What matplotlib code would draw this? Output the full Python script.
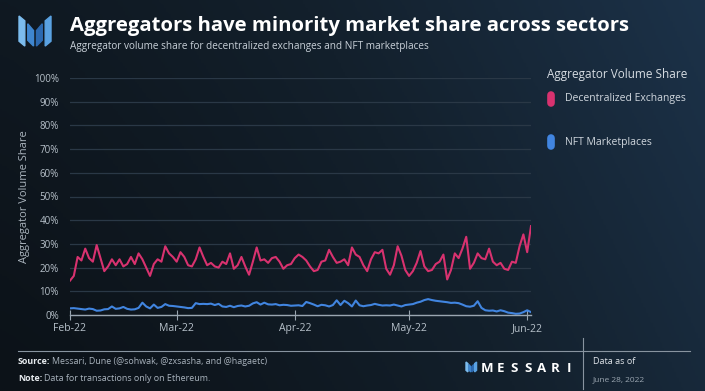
import numpy as np
import pandas as pd
import matplotlib
matplotlib.use("Agg")
from matplotlib import pyplot as plt, rcParams
from matplotlib.colors import LinearSegmentedColormap
from matplotlib.patches import Polygon
import matplotlib.dates as mdates

rcParams["font.family"] = ["Open Sans", "DejaVu Sans"]

# daily aggregator share (%), 1 Feb 2022 to 2 Jun 2022
dex_share = [
    14.5, 16.5, 24.5, 23, 28, 24, 22.5, 29.5, 24, 18.5,
    20.5, 23.5, 21, 23.5, 20.5, 21.5, 24.5, 21.5, 26, 23.5,
    20, 16.5, 21.5, 23.5, 22.5, 29, 26, 24.5, 22.5, 26.5,
    24.5, 21, 20.5, 23.5, 28.5, 24.5, 21, 22, 20.5, 20,
    22.5, 21.5, 26, 19.5, 21, 24.5, 20.5, 17, 22.5, 28.5,
    23, 23.5, 22, 24, 24.5, 22.5, 19.5, 21, 21.5, 24,
    25.5, 24.5, 23, 20.5, 18.5, 19, 22.5, 23, 27.5, 24.5,
    22, 22.5, 23.5, 21, 28.5, 25.5, 24.5, 21, 18.5, 23.5,
    26.5, 26, 27.5, 19.5, 17, 21, 29, 25, 19, 16.5,
    18.5, 22, 27, 20.5, 18.5, 19, 21.5, 22.5, 25.5, 15,
    19, 26, 24, 28, 33, 19.5, 22, 26, 24, 23.5,
    28, 22.5, 21, 22, 19.5, 19, 22.5, 22, 29, 34,
    26.5, 37.5,
]
nft_share = [
    2.8, 2.9, 2.7, 2.5, 2.3, 2.7, 2.5, 1.8, 1.9, 2.4,
    2.5, 3.6, 2.6, 2.8, 3.4, 2.6, 2.3, 2.4, 3.0, 5.2,
    3.6, 2.8, 4.4, 3.0, 3.4, 4.6, 3.9, 3.8, 3.6, 3.4,
    3.2, 2.9, 3.0, 5.0, 4.6, 4.7, 4.6, 4.8, 4.2, 4.7,
    3.6, 3.4, 3.9, 3.3, 3.8, 4.0, 3.6, 3.9, 4.9, 5.4,
    4.4, 5.2, 4.5, 4.4, 4.6, 4.1, 4.3, 4.2, 3.9, 4.0,
    4.1, 3.8, 5.5, 5.0, 4.4, 3.7, 4.3, 4.1, 3.6, 4.2,
    6.2, 4.2, 6.0, 5.0, 3.6, 6.1, 4.1, 3.7, 4.0, 4.2,
    4.7, 4.3, 4.0, 4.1, 4.0, 4.4, 4.0, 3.6, 4.2, 4.4,
    4.6, 5.2, 5.6, 6.3, 6.7, 6.3, 6.0, 5.8, 5.6, 5.4,
    5.1, 5.2, 5.0, 4.4, 3.7, 3.5, 3.9, 5.8, 3.0, 2.0,
    1.8, 1.9, 1.5, 2.0, 1.6, 1.0, 0.8, 0.5, 0.6, 1.2,
    2.0, 1.2,
]
dates = pd.date_range("2022-02-01", periods=len(dex_share), freq="D")
y_ticks = list(range(0, 101, 10))

PINK = "#d8326f"
BLUE = "#4185e0"
LIGHT = "#b7c1ca"

W, H = 705, 391
fig = plt.figure(figsize=(W / 100, H / 100), dpi=100)


def fx(x):
    return x / W


def fy(y):
    return 1 - y / H


# background gradient
bg = fig.add_axes([0, 0, 1, 1])
bg.axis("off")
gx = np.linspace(0, 1, 300)
gy = np.linspace(0, 1, 200)
grad = 0.75 * gx[None, :] ** 1.3 + 0.25 * (1 - gy[:, None])
cmap = LinearSegmentedColormap.from_list("bg", ["#0c1218", "#13202c", "#1c3249"])
bg.imshow(grad, cmap=cmap, aspect="auto", extent=[0, 1, 0, 1], origin="upper")
bg.set_xlim(0, 1)
bg.set_ylim(0, 1)

# main chart
ax = fig.add_axes([fx(70), fy(315), fx(531 - 70), (315 - 78) / H])
ax.set_facecolor("none")
ax.plot(dates, dex_share, color=PINK, lw=1.5, solid_joinstyle="round")
ax.plot(dates, nft_share, color=BLUE, lw=1.5, solid_joinstyle="round")
ax.set_xlim(dates[0], dates[-1])
ax.set_ylim(0, 100)
ax.set_yticks(y_ticks)
ax.set_yticklabels([f"{v}%" for v in y_ticks])
ax.grid(axis="y", color="#2a3846", lw=0.9)
ax.set_axisbelow(True)
ax.xaxis.set_major_locator(mdates.MonthLocator())
ax.xaxis.set_major_formatter(mdates.DateFormatter("%b-%y"))
for s in ["top", "right", "left"]:
    ax.spines[s].set_visible(False)
ax.spines["bottom"].set_color("#9aa6b1")
ax.spines["bottom"].set_linewidth(1.0)
ax.tick_params(axis="y", length=0, pad=8, labelsize=7, labelcolor=LIGHT)
ax.tick_params(axis="x", direction="inout", length=7, color="#9aa6b1",
               labelsize=7.5, labelcolor=LIGHT, pad=2)
ax.set_ylabel("Aggregator Volume Share", color="#aab4bd", fontsize=8)
ax.yaxis.set_label_coords(-0.087, 0.5)


def logo(x0, y0, s, zorder=5):
    # four slanted bars, coordinates in px relative to top-left
    shapes = [
        ([(0, 0), (6, 5), (6, 31), (0, 26)], "#7cbcee"),
        ([(9, 8), (15, 15), (15, 31), (9, 25)], "#3f86cf"),
        ([(18, 15), (24, 8), (24, 25), (18, 31)], "#2c69b0"),
        ([(27, 5), (33, 0), (33, 26), (27, 31)], "#5aa2e2"),
    ]
    for pts, c in shapes:
        fig.patches.append(Polygon([(fx(x0 + x * s), fy(y0 + y * s)) for x, y in pts],
                                   closed=True, transform=fig.transFigure,
                                   color=c, zorder=zorder))


logo(19, 16, 0.97)

fig.text(fx(70), fy(31), "Aggregators have minority market share across sectors",
         color="white", fontsize=14.6, fontweight="bold", va="baseline")
fig.text(fx(70), fy(49),
         "Aggregator volume share for decentralized exchanges and NFT marketplaces",
         color="#c8d0d8", fontsize=7.2, va="baseline")

# legend
fig.text(fx(547), fy(78), "Aggregator Volume Share", color="#d6dce2",
         fontsize=8.5, va="baseline")
for yc, c, lab in [(99, PINK, "Decentralized Exchanges"), (142, BLUE, "NFT Marketplaces")]:
    fig.add_artist(plt.Line2D([fx(551)] * 2, [fy(yc - 4), fy(yc + 4)], color=c, lw=5.5,
                              solid_capstyle="round", transform=fig.transFigure))
    fig.text(fx(565), fy(yc), lab, color="#d0d7de", fontsize=7.5, va="center")

# footer
fig.add_artist(plt.Line2D([fx(18), fx(690)], [fy(351)] * 2, color="#8894a0",
                          lw=0.8, transform=fig.transFigure))
fig.add_artist(plt.Line2D([fx(583)] * 2, [fy(338), fy(389)], color="#8894a0",
                          lw=0.8, transform=fig.transFigure))

renderer = fig.canvas.get_renderer()
for yb, head, rest in [(364, "Source:", "Messari, Dune (@sohwak, @zxsasha, and @hagaetc)"),
                       (381, "Note:", "Data for transactions only on Ethereum.")]:
    t = fig.text(fx(18), fy(yb), head, color="#e8ecf0", fontsize=6.4,
                 fontweight="bold", va="baseline")
    x1 = t.get_window_extent(renderer).x1
    fig.text(x1 / W + fx(2), fy(yb), rest, color="#a9b3bd", fontsize=6.4,
             va="baseline")

for i, ch in enumerate("MESSARI"):
    fig.text(fx(487 + i * 13.6), fy(372), ch, color="white", fontsize=9.5,
             fontweight="bold", va="baseline", ha="center")
logo(466, 362, 0.32)

fig.text(fx(593), fy(364), "Data as of", color="#e0e5ea", fontsize=6.5,
         va="baseline")
fig.text(fx(593), fy(381), "June 28, 2022", color="#9aa5b0", fontsize=6,
         va="baseline")

fig.savefig("out.png", dpi=100)
